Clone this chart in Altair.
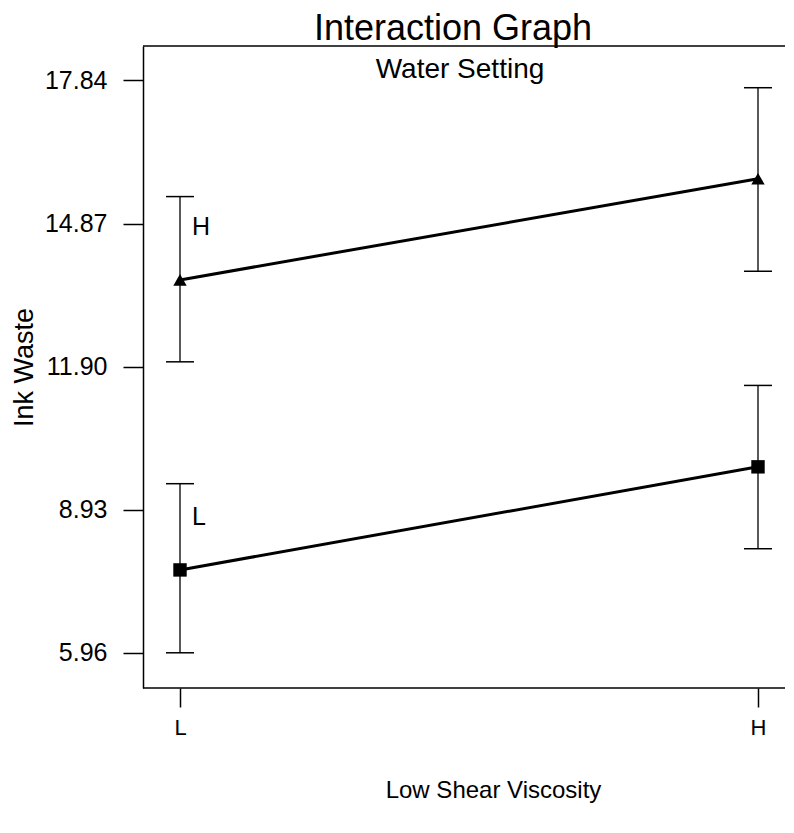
import altair as alt
import pandas as pd

# Data
viscosity = ["L", "H", "L", "H"]          # Low Shear Viscosity level
water = ["H", "H", "L", "L"]              # Water Setting level
mean = [13.70, 15.80, 7.68, 9.82]
lower = [12.00, 13.88, 5.96, 8.12]
upper = [15.43, 17.69, 9.47, 11.51]
y_ticks = [5.96, 8.93, 11.90, 14.87, 17.84]
x_order = ["L", "H"]

df = pd.DataFrame({"visc": viscosity, "water": water, "mean": mean,
                   "lower": lower, "upper": upper})

W, H = 642, 642
FONT = "Liberation Sans"

x_enc = alt.X("visc:N", sort=x_order,
              scale=alt.Scale(type="point", padding=0, range=[37, 615]),
              axis=alt.Axis(title="Low Shear Viscosity", labelAngle=0, domain=False,
                            tickSize=19, labelPadding=10, labelFontSize=22,
                            titleFontSize=24, titlePadding=40, titleX=350,
                            titleFontWeight="normal"))
y_scale = alt.Scale(domain=[5.229, 18.556], nice=False, zero=False)
y_enc = alt.Y("mean:Q", scale=y_scale,
              axis=alt.Axis(title="Ink Waste", values=y_ticks, format=".2f",
                            tickSize=20, labelPadding=16, labelFontSize=25,
                            titleFontSize=27, titlePadding=6,
                            titleFontWeight="normal"))

base = alt.Chart(df)

lines = base.mark_line(color="black", strokeWidth=3).encode(
    x=x_enc, y=y_enc, detail="water:N")

err = base.mark_rule(color="black", strokeWidth=1.3).encode(
    x=x_enc, y=alt.Y("lower:Q", scale=y_scale), y2="upper:Q")

cap_hi = base.mark_tick(color="black", size=28, thickness=1.5, opacity=1).encode(
    x=x_enc, y=alt.Y("upper:Q", scale=y_scale))
cap_lo = base.mark_tick(color="black", size=28, thickness=1.5, opacity=1).encode(
    x=x_enc, y=alt.Y("lower:Q", scale=y_scale))

points = base.mark_point(filled=True, color="black", opacity=1, size=180).encode(
    x=x_enc, y=y_enc,
    shape=alt.Shape("water:N",
                    scale=alt.Scale(domain=["H", "L"], range=["triangle-up", "square"]),
                    legend=None))

labels = base.transform_filter(alt.datum.visc == "L").mark_text(
    align="left", baseline="middle", dx=12, dy=-53, fontSize=25,
    font=FONT, color="black").encode(
    x=x_enc, y=y_enc, text="water:N")

sub = alt.Chart(pd.DataFrame({"t": ["Water Setting"]})).mark_text(
    align="center", baseline="alphabetic", fontSize=28, font=FONT,
    color="black").encode(text="t:N", x=alt.value(317), y=alt.value(32))

frame = pd.DataFrame({"a": [0]})
top_border = alt.Chart(frame).mark_rule(color="black", strokeWidth=1.5).encode(
    x=alt.value(0), x2=alt.value(W), y=alt.value(0))
bottom_border = alt.Chart(frame).mark_rule(color="black", strokeWidth=1.5).encode(
    x=alt.value(0), x2=alt.value(W), y=alt.value(H))

chart = alt.layer(top_border, bottom_border, err, cap_hi, cap_lo, lines, points,
                  labels, sub).properties(
    width=W, height=H,
    title=alt.Title("Interaction Graph", fontSize=36, font=FONT,
                    fontWeight="normal", anchor="middle", dx=-11,
                    offset=-3, color="black"),
    autosize=alt.AutoSizeParams(type="none"),
    padding={"left": 135, "top": 38, "right": 0, "bottom": 120},
).configure_view(stroke=None).configure_axis(
    grid=False, domainColor="black", tickColor="black", labelColor="black",
    titleColor="black", domainWidth=1.5, tickWidth=1.5,
    labelFont=FONT, titleFont=FONT)

chart.save("out.html", embed_options={"renderer": "svg", "actions": False})
